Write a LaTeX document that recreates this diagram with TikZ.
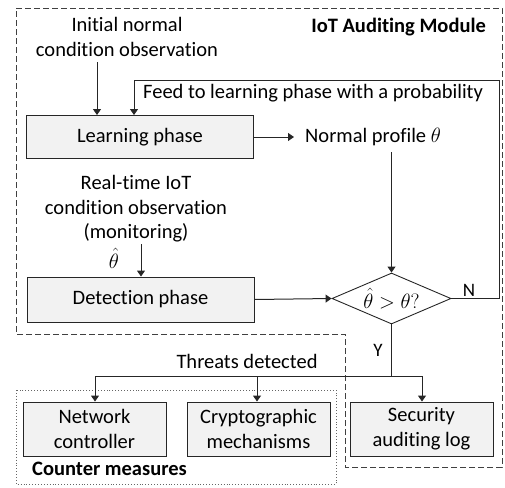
\documentclass[tikz,border=0pt]{standalone}
\usepackage{fontspec}
\setmainfont{Carlito}[Ligatures=NoCommon]
\usetikzlibrary{arrows.meta,shapes.geometric}
\begin{document}
\begin{tikzpicture}[x=1pt,y=-1pt,
  every node/.style={font=\fontsize{20.5}{25}\selectfont},
  pbox/.style={draw=black!85, fill=black!5, line width=0.9pt, inner sep=0pt},
  conn/.style={line width=1pt, black!85},
  arr/.style={conn, -{Triangle[length=6pt,width=8pt]}},
  lbl/.style={inner sep=0pt, align=center}]
\useasboundingbox (0,0) rectangle (505,487);
% outer dashed module region
\draw[black!75, line width=0.9pt, dash pattern=on 6pt off 3pt]
  (16,8) -- (502,8) -- (502,467) -- (345,467) -- (345,334) -- (16,334) -- cycle;
% counter measures dotted box
\draw[black!60, line width=0.9pt, dotted] (16,390) rectangle (336,484);
% boxes
\node[pbox, minimum width=227pt, minimum height=43pt] (learn) at (140,137) {Learning phase};
\node[pbox, minimum width=227pt, minimum height=45pt] (detect) at (140.5,299.5) {Detection phase};
\node[draw=black!85, line width=0.9pt, diamond, aspect=2.33, inner sep=0pt, minimum width=119pt, minimum height=51pt] (dec) at (391.5,298.5) {$\hat{\theta} > \theta?$};
\node[pbox, minimum width=143pt, minimum height=54pt, align=center] (net) at (94.5,429) {Network\\controller};
\node[pbox, minimum width=143pt, minimum height=54pt, align=center] (crypt) at (258.5,429) {Cryptographic\\mechanisms};
\node[pbox, minimum width=143pt, minimum height=54pt, align=center] (sec) at (421.5,429) {Security\\auditing log};
% texts
\node[lbl] (init) at (127,37) {Initial normal\\condition observation};
\node[lbl, anchor=east, font=\bfseries\fontsize{20.5}{21}\selectfont] (mod) at (486,27) {IoT Auditing Module};
\node[lbl, anchor=west] (feed) at (143,93) {Feed to learning phase with a probability};
\node[lbl, anchor=west] (norm) at (305,137) {Normal profile $\theta$};
\node[lbl, font=\fontsize{20.5}{24.5}\selectfont] (rt) at (136,209) {Real-time IoT\\condition observation\\(monitoring)};
\node[lbl, inner sep=0pt, text height=10pt, text depth=0pt] (th) at (114,263) {$\hat{\theta}$};
\node[lbl, font=\fontsize{19}{21}\selectfont] (nlab) at (469,290) {N};
\node[lbl, font=\fontsize{19}{21}\selectfont] (ylab) at (378,350) {Y};
\node[lbl] (threat) at (247,361) {Threats detected};
\node[lbl, anchor=west, font=\bfseries\fontsize{20.5}{21}\selectfont] (cm) at (32,469) {Counter measures};
% coordinates
\coordinate (i0) at (97,62);
\coordinate (r1) at (499,298.5);
\coordinate (r2) at (499,80);
\coordinate (r3) at (134,80);
\coordinate (np) at (294,137);
\coordinate (nb) at (391.5,152);
\coordinate (rt0) at (141,244);
\coordinate (yb) at (391.5,376);
\coordinate (h1) at (95,376);
\coordinate (h2) at (257,376);
\coordinate (h3) at (422,376);
% connectors
\draw[arr] (i0) -- (learn.north -| i0);
\draw[arr] (dec.east) -- (r1) -- (r2) -- (r3) -- (learn.north -| r3);
\draw[arr] (learn.east) -- (np);
\draw[arr] (nb) -- (dec.north);
\draw[arr] (rt0) -- (detect.north -| rt0);
\draw[arr] (detect.east) -- (dec.west);
\draw[conn] (dec.south) -- (yb);
\draw[conn] (h1) -- (h3);
\draw[arr] (h1) -- (net.north -| h1);
\draw[arr] (h2) -- (crypt.north -| h2);
\draw[arr] (h3) -- (sec.north -| h3);
\end{tikzpicture}
\end{document}
